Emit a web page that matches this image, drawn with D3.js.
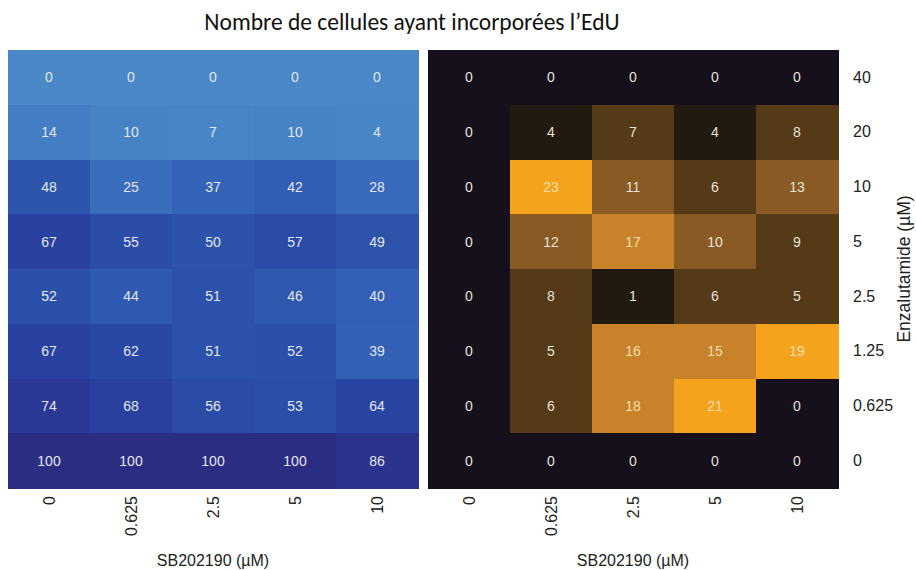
<!DOCTYPE html>
<html>
<head>
<meta charset="utf-8">
<script src="https://cdn.jsdelivr.net/npm/d3@7"></script>
<style>
  body { margin: 0; background: #fff; }
  text { font-family: "Liberation Sans", Arial, sans-serif; }
</style>
</head>
<body>
<script>
var width = 916, height = 570;

// concentrations
var sbDoses = ["0", "0.625", "2.5", "5", "10"];
var enzaDoses = ["40", "20", "10", "5", "2.5", "1.25", "0.625", "0"];

// rows follow enzaDoses (top to bottom), columns follow sbDoses
var leftValues = [
  [0, 0, 0, 0, 0],
  [14, 10, 7, 10, 4],
  [48, 25, 37, 42, 28],
  [67, 55, 50, 57, 49],
  [52, 44, 51, 46, 40],
  [67, 62, 51, 52, 39],
  [74, 68, 56, 53, 64],
  [100, 100, 100, 100, 86]
];
var rightValues = [
  [0, 0, 0, 0, 0],
  [0, 4, 7, 4, 8],
  [0, 23, 11, 6, 13],
  [0, 12, 17, 10, 9],
  [0, 8, 1, 6, 5],
  [0, 5, 16, 15, 19],
  [0, 6, 18, 21, 0],
  [0, 0, 0, 0, 0]
];

var svg = d3.select("body").append("svg")
    .attr("width", width)
    .attr("height", height);

svg.append("text")
   .attr("x", 412)
   .attr("y", 30)
   .attr("text-anchor", "middle")
   .style("font-family", "Carlito, 'Noto Sans', sans-serif")
   .style("font-size", "23.5px")
   .attr("fill", "#111")
   .text("Nombre de cellules ayant incorporées l’EdU");

var gridTop = 50, gridBottom = 488;

var y = d3.scaleBand().domain(enzaDoses).range([gridTop, gridBottom]);

var blue = d3.scaleLinear()
    .domain([0, 10, 25, 40, 50, 65, 75, 100])
    .range(["#4a88c8", "#4683c5", "#3b6dbd", "#3360b6", "#2c52aa", "#2844a3", "#2b3794", "#2b2d83"]);

var orange = d3.scaleThreshold()
    .domain([1, 5, 10, 14, 19])
    .range(["#15101b", "#221a11", "#553a18", "#8a5a25", "#c8832a", "#f5a31c"]);

function drawHeatmap(x0, x1, values, color, textColor) {
  var x = d3.scaleBand().domain(sbDoses).range([x0, x1]);
  var g = svg.append("g");
  var cells = [];
  values.forEach(function(row, i) {
    row.forEach(function(v, j) {
      cells.push({ r: enzaDoses[i], c: sbDoses[j], v: v });
    });
  });

  g.selectAll("rect").data(cells).enter()
   .append("rect")
   .attr("x", d => x(d.c))
   .attr("y", d => y(d.r))
   .attr("width", x.bandwidth() + 1)
   .attr("height", y.bandwidth() + 1)
   .attr("shape-rendering", "crispEdges")
   .attr("fill", d => color(d.v));

  g.selectAll("text.val").data(cells).enter()
   .append("text")
   .attr("class", "val")
   .attr("x", d => x(d.c) + x.bandwidth() / 2)
   .attr("y", d => y(d.r) + y.bandwidth() / 2)
   .attr("dy", "0.35em")
   .attr("text-anchor", "middle")
   .style("font-size", "14px")
   .attr("fill", d => textColor(d.v))
   .text(d => d.v);

  // x axis, rotated labels
  var xAxis = d3.axisBottom(x).tickSize(0).tickPadding(0);
  var ax = g.append("g")
    .attr("transform", "translate(0," + (gridBottom + 8) + ")")
    .call(xAxis);
  ax.select(".domain").remove();
  ax.selectAll("text")
    .style("font-size", "16px")
    .style("font-family", "'Liberation Sans', Arial, sans-serif")
    .attr("fill", "#222")
    .attr("transform", "rotate(-90)")
    .attr("text-anchor", "end")
    .attr("x", 0)
    .attr("y", 0)
    .attr("dy", "0.35em");

  g.append("text")
   .attr("x", (x0 + x1) / 2)
   .attr("y", 566)
   .attr("text-anchor", "middle")
   .style("font-size", "16px")
   .attr("fill", "#222")
   .text("SB202190 (µM)");
  return x;
}

drawHeatmap(8, 418, leftValues, blue, () => "#e2e8f2");
drawHeatmap(428, 838, rightValues, orange, v => v >= 14 ? "#f4dcae" : "#e8e2da");

// right y axis
var yAxis = d3.axisRight(y).tickSize(0).tickPadding(15);
var ay = svg.append("g")
  .attr("transform", "translate(838,0)")
  .call(yAxis);
ay.select(".domain").remove();
ay.selectAll("text")
  .style("font-size", "16px")
  .style("font-family", "'Liberation Sans', Arial, sans-serif")
  .attr("fill", "#222");

svg.append("text")
   .attr("transform", "translate(910," + ((gridTop + gridBottom) / 2) + ") rotate(-90)")
   .attr("text-anchor", "middle")
   .style("font-size", "17.5px")
   .style("font-family", "'Liberation Sans', Arial, sans-serif")
   .attr("fill", "#222")
   .text("Enzalutamide (µM)");
</script>
</body>
</html>
